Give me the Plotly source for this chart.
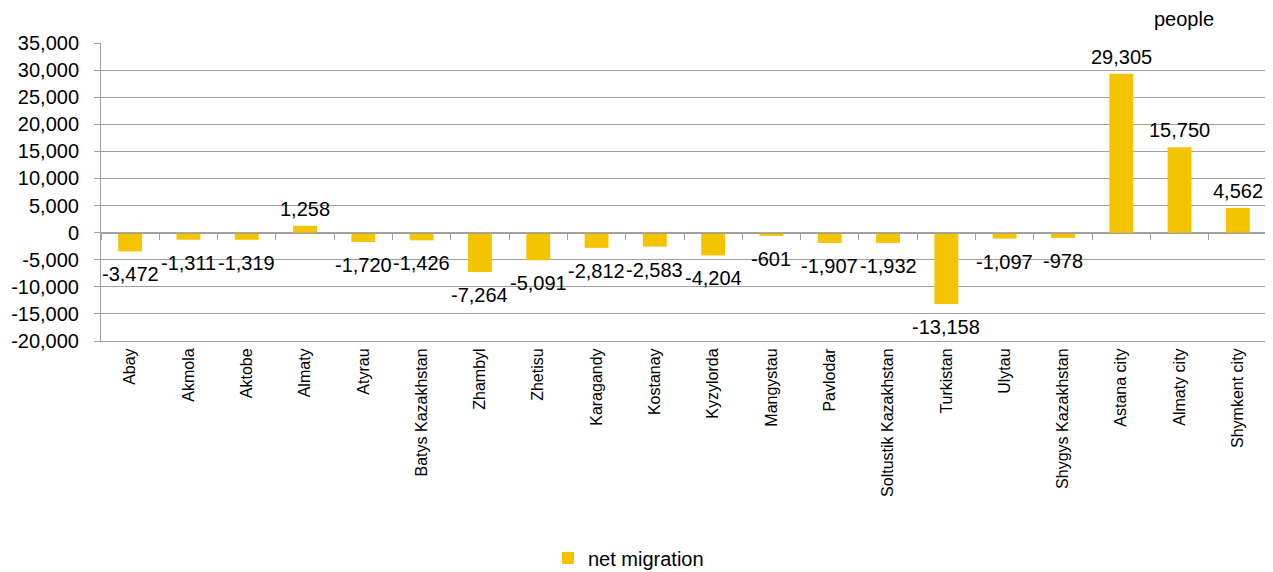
import plotly.graph_objects as go

categories = ["Abay", "Akmola", "Aktobe", "Almaty", "Atyrau", "Batys Kazakhstan",
              "Zhambyl", "Zhetisu", "Karagandy", "Kostanay", "Kyzylorda", "Mangystau",
              "Pavlodar", "Soltustik Kazakhstan", "Turkistan", "Ulytau",
              "Shygys Kazakhstan", "Astana city", "Almaty city", "Shymkent city"]
net_migration = [-3472, -1311, -1319, 1258, -1720, -1426, -7264, -5091, -2812, -2583,
                 -4204, -601, -1907, -1932, -13158, -1097, -978, 29305, 15750, 4562]
y_ticks = list(range(-20000, 35001, 5000))
y_min, y_max = -20000, 35000

FONT = "Liberation Sans, Arial, sans-serif"
BAR = "#F5C400"
GRID = "#A0A0A0"
TXT = 20
W, H = 1265, 564  # page body has an 8px margin

fig = go.Figure()
fig.add_trace(go.Bar(
    x=list(range(len(categories))), y=net_migration, name="net migration",
    marker=dict(color=BAR, line=dict(width=0)), width=0.41,
    hovertemplate="%{y:,}<extra></extra>",
))
# invisible trace on overlay axis for category boundary ticks at zero line
fig.add_trace(go.Scatter(x=[0], y=[0], xaxis="x2", mode="markers",
                         marker=dict(opacity=0), showlegend=False, hoverinfo="skip"))

annotations = []
for i, v in enumerate(net_migration):
    annotations.append(dict(
        x=i, y=v, xref="x", yref="y", text=f"{v:,}", showarrow=False,
        xanchor="center", yanchor="middle", yshift=17 if v >= 0 else -23,
        font=dict(family=FONT, size=TXT, color="black")))
annotations.append(dict(text="people", xref="paper", yref="paper", x=0.929, y=1.0,
                        yshift=24, xanchor="center", yanchor="middle", showarrow=False,
                        font=dict(family=FONT, size=TXT, color="black")))

fig.update_layout(
    width=W, height=H,
    margin=dict(l=93, r=6, t=35, b=231, autoexpand=False),
    paper_bgcolor="white", plot_bgcolor="white",
    font=dict(family=FONT, size=TXT, color="black"),
    showlegend=True,
    legend=dict(orientation="h", xref="container", yref="container",
                x=540 / W, xanchor="left", y=1 - 550 / H, yanchor="middle",
                font=dict(family=FONT, size=TXT), itemwidth=30),
    xaxis=dict(range=[-0.5, len(categories) - 0.5], tickmode="array",
               tickvals=list(range(len(categories))), ticktext=categories,
               tickangle=-90, showgrid=False, zeroline=False,
               showline=True, linecolor=GRID, linewidth=1, ticks="",
               tickfont=dict(family=FONT, size=16)),
    xaxis2=dict(overlaying="x", anchor="free",
                position=(0 - y_min) / (y_max - y_min),
                range=[-0.5, len(categories) - 0.5], tickmode="array",
                tickvals=[i - 0.5 for i in range(len(categories) + 1)],
                showticklabels=False, ticks="outside", ticklen=6, tickcolor=GRID,
                showline=True, linecolor=GRID, showgrid=False, zeroline=False),
    yaxis=dict(range=[y_min, y_max], tickmode="array", tickvals=y_ticks,
               ticktext=[f"{v:,}" for v in y_ticks], showgrid=True, gridcolor=GRID,
               gridwidth=1, zeroline=False, showline=True, linecolor=GRID,
               ticks="outside", ticklen=6, tickcolor=GRID, ticklabelstandoff=11,
               tickfont=dict(family=FONT, size=TXT)),
    annotations=annotations,
)

fig.write_html("out.html")
